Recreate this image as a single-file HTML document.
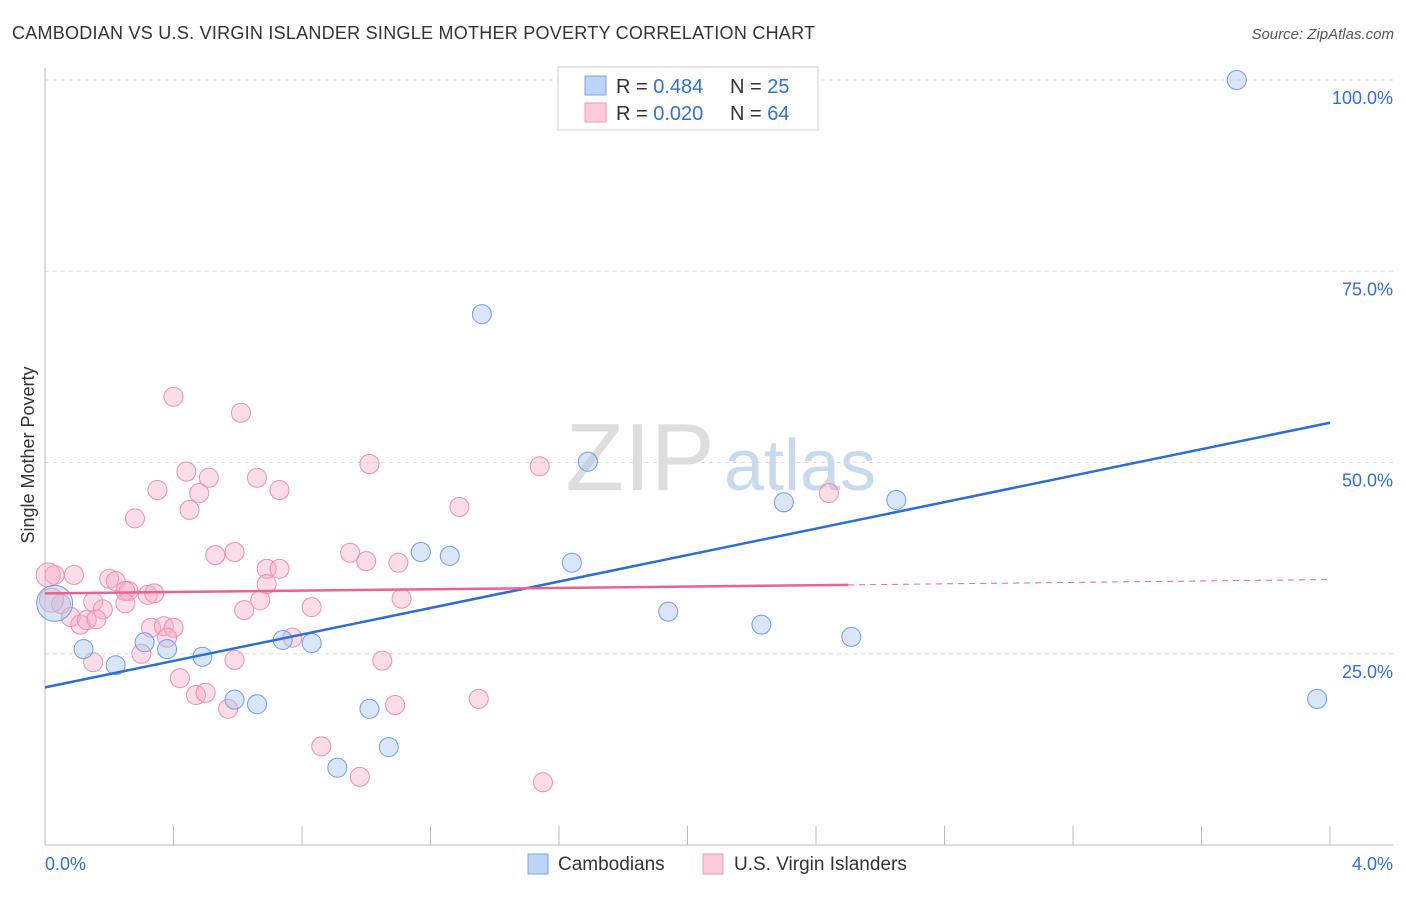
<!DOCTYPE html>
<html><head><meta charset="utf-8"><style>
body{margin:0;background:#fff;font-family:"Liberation Sans",sans-serif;}
svg text{font-family:"Liberation Sans",sans-serif;}
</style></head><body>
<svg width="1406" height="892" viewBox="0 0 1406 892">
<text x="12" y="39" font-size="18" fill="#333" textLength="803">CAMBODIAN VS U.S. VIRGIN ISLANDER SINGLE MOTHER POVERTY CORRELATION CHART</text>
<text x="1394" y="39" font-size="15" fill="#555" font-style="italic" text-anchor="end">Source: ZipAtlas.com</text>
<g id="grid"></g>
<line x1="45" y1="68" x2="45" y2="845" stroke="#bbb"/>
<line x1="45" y1="845" x2="1393" y2="845" stroke="#bbb"/>
<text x="640" y="490" font-size="96" fill="#ddd" font-family="Liberation Serif" text-anchor="middle">ZIP</text>
<text x="800" y="490" font-size="72" fill="#c8d9f0" text-anchor="middle">atlas</text>
<text transform="translate(34,455) rotate(-90)" font-size="18" fill="#333" text-anchor="middle">Single Mother Poverty</text>
<g id="ticks"></g>
<g id="pts"></g>
<g id="lines"></g>
<g>
<rect x="558" y="67" width="260" height="63" fill="#fff" stroke="#ccc"/>
<rect x="585" y="76" width="21" height="19" fill="#bcd4f5" stroke="#7aa5e0"/>
<rect x="585" y="103" width="21" height="19" fill="#fbcadb" stroke="#ee9ab8"/>
<text x="616" y="93" font-size="20" fill="#333">R = <tspan fill="#2f6fd6">0.484</tspan></text>
<text x="730" y="93" font-size="20" fill="#333">N = <tspan fill="#2f6fd6">25</tspan></text>
<text x="616" y="120" font-size="20" fill="#333">R = <tspan fill="#2f6fd6">0.020</tspan></text>
<text x="730" y="120" font-size="20" fill="#333">N = <tspan fill="#2f6fd6">64</tspan></text>
</g>
<g>
<rect x="528" y="854" width="20" height="20" fill="#bcd4f5" stroke="#7aa5e0"/>
<text x="558" y="870" font-size="19" fill="#333">Cambodians</text>
<rect x="703" y="854" width="20" height="20" fill="#fbcadb" stroke="#ee9ab8"/>
<text x="734" y="870" font-size="19" fill="#333">U.S. Virgin Islanders</text>
</g>
</svg>
<script>
const yTicks=[25,50,75,100];
const xTickLabels=["0.0%","4.0%"];
const blueX=[3.71,1.36,1.69,2.30,2.65,1.17,1.26,1.64,1.94,2.23,2.51,3.96,0.03,0.12,0.22,0.31,0.38,0.49,0.59,0.66,0.74,0.83,1.01,1.07,0.91];
const blueY=[100,69.4,50.1,44.8,45.1,38.3,37.8,36.9,30.5,28.8,27.2,19.1,31.6,25.6,23.5,26.5,25.6,24.6,19.0,18.4,26.8,26.4,17.8,12.8,10.1];
const pinkX=[0.40,0.61,1.01,1.54,0.44,0.51,0.35,0.48,0.66,0.73,1.29,2.44,0.45,0.28,0.53,0.59,0.95,1.00,1.10,0.69,0.73,0.69,0.03,0.09,0.20,0.22,0.26,0.32,0.34,0.25,0.15,0.25,0.18,0.67,0.62,0.83,1.11,0.05,0.08,0.11,0.13,0.16,0.33,0.37,0.40,0.38,0.77,0.30,0.15,0.59,1.05,0.42,0.47,0.50,0.57,1.09,1.35,0.86,0.98,1.55,0.01,0.02];
const pinkY=[58.6,56.5,49.8,49.5,48.8,48.0,46.4,46.0,48.0,46.4,44.2,46.0,43.8,42.7,37.9,38.3,38.2,37.1,36.9,36.1,36.1,34.1,35.3,35.3,34.8,34.5,33.2,32.7,32.9,33.2,31.8,31.6,30.8,32.0,30.7,31.1,32.2,31.5,29.8,28.8,29.4,29.5,28.4,28.6,28.4,27.1,27.1,25.0,23.9,24.2,24.1,21.8,19.6,19.9,17.8,18.3,19.1,12.9,8.9,8.2,35.3,32.0];
const blueLine=[20.6,55.2];
const pinkLine=[32.9,34.0,34.7];
const X=v=>45+v*321.25, Y=v=>845-v*7.65;
const NS="http://www.w3.org/2000/svg";
function mk(t,a,p){const e=document.createElementNS(NS,t);for(const k in a)e.setAttribute(k,a[k]);document.getElementById(p).appendChild(e);return e;}
yTicks.forEach(t=>{
 const l=mk('line',{x1:45,x2:1393,y1:Y(t),y2:Y(t),stroke:'#ddd','stroke-dasharray':'4,4'},'grid');
 
 
 const tx=mk('text',{x:1393,y:Y(t)+24,'font-size':18,fill:'#2f6fd6','text-anchor':'end'},'ticks');
 tx.textContent=t.toFixed(1)+'%';
 
 
});
for(let i=0;i<=10;i++){
 const l=mk('line',{x1:X(i*0.4),x2:X(i*0.4),y1:826,y2:845,stroke:'#bbb'},'ticks');
 
 
}
[[0,45,'start'],[4,1393,'end']].forEach((d,i)=>{
 const tx=mk('text',{x:d[1],y:870,'font-size':18,fill:'#2f6fd6','text-anchor':d[2]},'ticks');
 tx.textContent=xTickLabels[i];
 
 
});
pinkX.forEach((x,i)=>{
 const r=(i>=60)?12:9.5;
 const c=mk('circle',{cx:X(x),cy:Y(pinkY[i]),r:r,fill:'rgba(246,170,196,0.4)',stroke:'#eb8fb0','stroke-width':1},'pts');
 
 
});
blueX.forEach((x,i)=>{
 const r=(i==12)?18:9.5;
 const c=mk('circle',{cx:X(x),cy:Y(blueY[i]),r:r,fill:'rgba(170,200,240,0.45)',stroke:'#6d9ee0','stroke-width':1},'pts');
 
 
});
let b=mk('line',{x1:X(0),y1:Y(blueLine[0]),x2:X(4),y2:Y(blueLine[1]),stroke:'#2a6ed6','stroke-width':2.5},'lines');


let p=mk('line',{x1:X(0),y1:Y(pinkLine[0]),x2:X(2.5),y2:Y(pinkLine[1]),stroke:'#e8648f','stroke-width':2.5},'lines');


let pd=mk('line',{x1:X(2.5),y1:Y(pinkLine[1]),x2:X(4),y2:Y(pinkLine[2]),stroke:'#e8648f','stroke-width':1,'stroke-dasharray':'6,5'},'lines');


</script>
</body></html>
